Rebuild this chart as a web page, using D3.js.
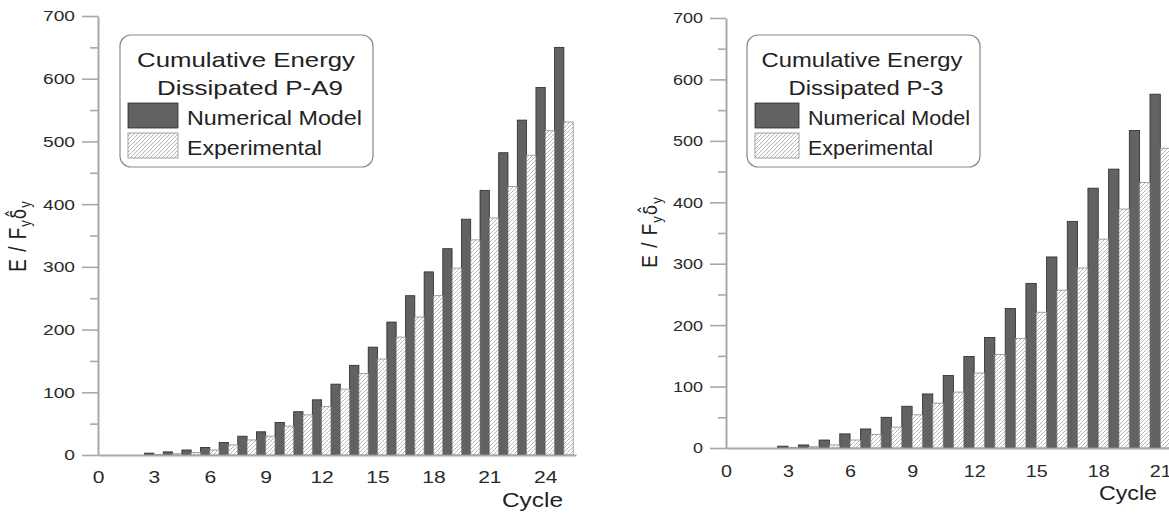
<!DOCTYPE html>
<html lang="en">
<head>
<meta charset="UTF-8">
<title>Cumulative Energy Dissipated</title>
<script src="https://cdn.jsdelivr.net/npm/d3@7"></script>
<style>
  body { margin: 0; background: #fff; }
  text { font-family: "Liberation Sans", Arial, sans-serif; }
</style>
</head>
<body>
<svg id="chart" width="1169" height="514"></svg>
<script>
// ---- data ----
const cyclesA9 = [3, 4, 5, 6, 7, 8, 9, 10, 11, 12, 13, 14, 15, 16, 17, 18, 19, 20, 21, 22, 23, 24, 25];
const numericalA9 = [3, 5, 8, 12, 20, 30, 37, 52, 69, 88, 113, 143, 172, 212, 254, 292, 329, 376, 422, 482, 534, 586, 650];
const experimentalA9 = [1, 2, 4, 8, 16, 24, 30, 46, 64, 77, 105, 130, 153, 188, 220, 254, 298, 343, 378, 428, 478, 517, 531];

const cyclesP3 = [3, 4, 5, 6, 7, 8, 9, 10, 11, 12, 13, 14, 15, 16, 17, 18, 19, 20, 21];
const numericalP3 = [3, 5, 13, 23, 31, 50, 68, 88, 118, 149, 180, 227, 268, 311, 369, 423, 454, 517, 576];
const experimentalP3 = [1, 2, 5, 13, 22, 34, 54, 73, 91, 122, 152, 178, 221, 257, 293, 340, 389, 432, 488];

const yTicks = [0, 100, 200, 300, 400, 500, 600, 700];
const yMinorTicks = [50, 150, 250, 350, 450, 550, 650];
const xTicksA9 = [0, 3, 6, 9, 12, 15, 18, 21, 24];
const xTicksP3 = [0, 3, 6, 9, 12, 15, 18, 21];
const seriesNames = ["Numerical Model", "Experimental"];

const svg = d3.select("#chart");

// hatch for the experimental bars
const defs = svg.append("defs");
defs.append("pattern")
    .attr("id", "hatch")
    .attr("patternUnits", "userSpaceOnUse")
    .attr("width", 4).attr("height", 4)
  .call(p => {
    p.append("rect").attr("width", 4).attr("height", 4).attr("fill", "#fff");
    p.append("path")
      .attr("d", "M-1,1 l2,-2 M0,4 l4,-4 M3,5 l2,-2")
      .attr("stroke", "#a4a4a4").attr("stroke-width", 0.8);
  });

const panels = [
  {
    cycles: cyclesA9, num: numericalA9, exp: experimentalA9, xTicks: xTicksA9,
    xDomain: [0, 25.65], xRange: [98, 576], yRange: [455, 16], sx: 1.24,
    title: ["Cumulative Energy", "Dissipated P-A9"],
    box: {x: 120, y: 35, w: 253, h: 132},
    titleX: [246, 250], titleW: [218, 186],
    swatchX: 128, swatchW: 50, entryX: 187, entryW: [175, 135],
    ylab: {x: 26, y: 236}, cycle: {x: 563, y: 507, w: 61}, xLabPad: 16
  },
  {
    cycles: cyclesP3, num: numericalP3, exp: experimentalP3, xTicks: xTicksP3,
    xDomain: [0, 22], xRange: [726, 1181], yRange: [448, 18], sx: 1.16,
    title: ["Cumulative Energy", "Dissipated P-3"],
    box: {x: 747, y: 35, w: 233, h: 132},
    titleX: [862, 866], titleW: [201, 155],
    swatchX: 755, swatchW: 44, entryX: 808, entryW: [162, 125],
    ylab: {x: 657, y: 232}, cycle: {x: 1157, y: 500, w: 58}, xLabPad: 17
  }
];

panels.forEach(drawPanel);

function drawPanel(p) {
  const g = svg.append("g");
  const x = d3.scaleLinear().domain(p.xDomain).range(p.xRange);
  const y = d3.scaleLinear().domain([0, 700]).range(p.yRange);

  const rows = p.cycles.map((c, i) => ({cycle: c, num: p.num[i], exp: p.exp[i]}));

  // bars: model on the left half of each cycle, experiment on the right half
  g.selectAll(".num").data(rows).enter().append("rect")
      .attr("x", d => x(d.cycle - 0.5))
      .attr("width", d => x(d.cycle) - x(d.cycle - 0.5))
      .attr("y", d => y(d.num))
      .attr("height", d => y(0) - y(d.num))
      .attr("fill", "#626262")
      .attr("stroke", "#2a2a2a").attr("stroke-width", 0.8);

  g.selectAll(".exp").data(rows).enter().append("rect")
      .attr("x", d => x(d.cycle))
      .attr("width", d => x(d.cycle + 0.5) - x(d.cycle))
      .attr("y", d => y(d.exp))
      .attr("height", d => y(0) - y(d.exp))
      .attr("fill", "url(#hatch)")
      .attr("stroke", "#8c8c8c").attr("stroke-width", 0.8);

  // y axis
  const yAx = g.append("g")
      .attr("transform", `translate(${x(0)},0)`)
      .call(d3.axisLeft(y).tickValues(yTicks).tickSize(16).tickSizeOuter(0).tickPadding(7));
  yAx.selectAll("text")
      .attr("x", -23 / p.sx)
      .attr("transform", `scale(${p.sx},1)`)
      .attr("font-size", 15.5).attr("fill", "#2a2a2a");

  const yMin = g.append("g")
      .attr("transform", `translate(${x(0)},0)`)
      .call(d3.axisLeft(y).tickValues(yMinorTicks).tickSize(8).tickFormat(""));
  yMin.select(".domain").remove();

  // x axis
  const xAx = g.append("g")
      .attr("transform", `translate(0,${y(0)})`)
      .call(d3.axisBottom(x).tickValues(p.xTicks).tickSize(0).tickSizeOuter(0).tickPadding(p.xLabPad));
  xAx.selectAll("text")
      .attr("transform", `scale(${p.sx},1)`)
      .attr("font-size", 17).attr("fill", "#2a2a2a");

  g.selectAll(".domain").attr("stroke", "#a8a8a8").attr("stroke-width", 2);
  g.selectAll(".tick line").attr("stroke", "#a8a8a8").attr("stroke-width", 1.6);

  // axis titles
  g.append("text")
      .attr("text-anchor", "end")
      .attr("transform", `translate(${p.cycle.x},${p.cycle.y})`)
      .attr("font-size", 21).attr("fill", "#222")
      .attr("textLength", p.cycle.w).attr("lengthAdjust", "spacingAndGlyphs")
      .text("Cycle");

  const yl = g.append("text")
      .attr("text-anchor", "middle")
      .attr("transform", `translate(${p.ylab.x},${p.ylab.y}) scale(${p.sx},1) rotate(-90)`)
      .attr("font-size", 19).attr("fill", "#222")
      .attr("letter-spacing", 1);
  yl.append("tspan").text("E / F");
  yl.append("tspan").attr("dy", 4).attr("font-size", 13).text("y");
  yl.append("tspan").attr("dy", -4).attr("font-family", "DejaVu Sans").attr("font-size", 17).text("\u03B4\u0302");
  yl.append("tspan").attr("dy", 4).attr("font-size", 13).text("y");

  // legend
  const lg = g.append("g");
  lg.append("rect")
      .attr("x", p.box.x).attr("y", p.box.y)
      .attr("width", p.box.w).attr("height", p.box.h)
      .attr("rx", 11)
      .attr("fill", "#fff").attr("stroke", "#8a8a8a").attr("stroke-width", 1.2);

  p.title.forEach((t, i) => {
    lg.append("text")
        .attr("x", p.titleX[i]).attr("y", 67 + i * 28)
        .attr("text-anchor", "middle")
        .attr("font-size", 21).attr("fill", "#222")
        .attr("textLength", p.titleW[i]).attr("lengthAdjust", "spacingAndGlyphs")
        .text(t);
  });

  seriesNames.forEach((name, i) => {
    const top = 103 + i * 30;
    lg.append("rect")
        .attr("x", p.swatchX).attr("y", top)
        .attr("width", p.swatchW).attr("height", 25)
        .attr("fill", i === 0 ? "#626262" : "url(#hatch)")
        .attr("stroke", i === 0 ? "#2a2a2a" : "#8c8c8c").attr("stroke-width", 0.8);
    lg.append("text")
        .attr("x", p.entryX).attr("y", top + 22)
        .attr("font-size", 21).attr("fill", "#222")
        .attr("textLength", p.entryW[i]).attr("lengthAdjust", "spacingAndGlyphs")
        .text(name);
  });
}
</script>
</body>
</html>
